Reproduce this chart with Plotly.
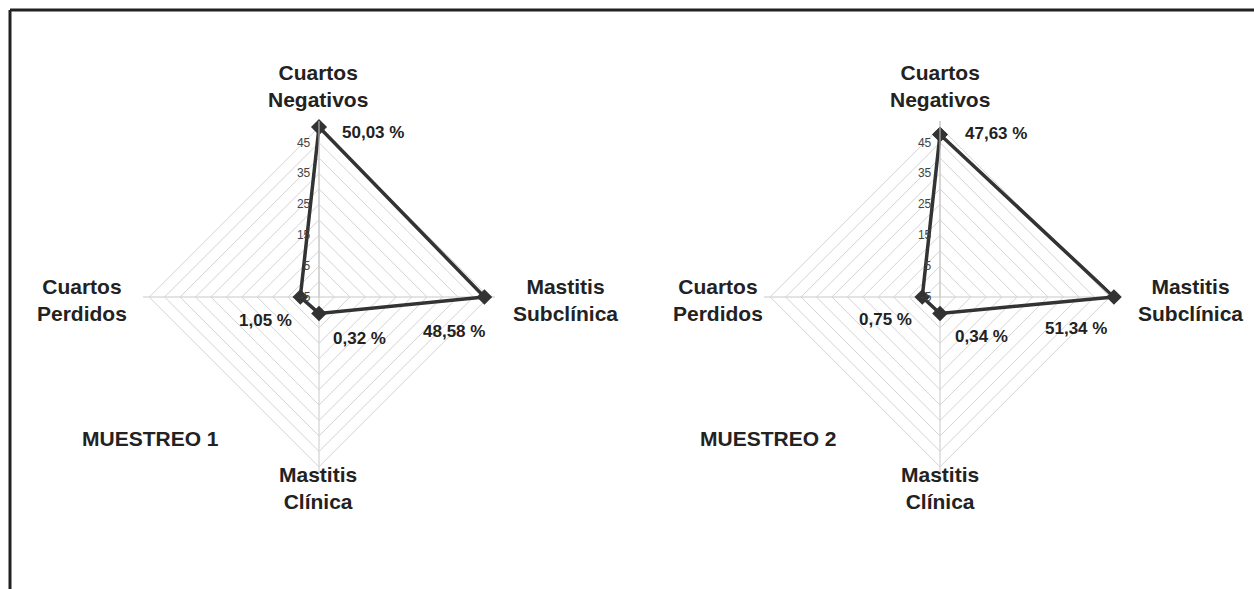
import plotly.graph_objects as go

categories = ["Cuartos<br>Negativos", "Mastitis<br>Subclínica", "Mastitis<br>Clínica", "Cuartos<br>Perdidos"]
muestreo1 = [50.03, 48.58, 0.32, 1.05]
muestreo2 = [47.63, 51.34, 0.34, 0.75]
titles = ["MUESTREO 1", "MUESTREO 2"]
grid_ticks = [-5, 0, 5, 10, 15, 20, 25, 30, 35, 40, 45, 50]
tick_labels = ["-5", "", "5", "", "15", "", "25", "", "35", "", "45", ""]
AXIS_MIN, AXIS_MAX = -5, 52  # radial axis: centre of the diamond is -5; spokes run slightly past 50

FONT = "Liberation Sans, Arial, sans-serif"
DARK = "#333333"
TXT = "#222222"
GRID = "#d4d4d4"

def fmt(v):
    return f"<b>{v:.2f}".replace(".", ",") + " %</b>"

# radial values measured from the axis origin (-5) so the centre sits at -5
def from_origin(vals):
    return [v - AXIS_MIN for v in vals]

fig = go.Figure()
for i, vals in enumerate([muestreo1, muestreo2]):
    sub = "polar" if i == 0 else "polar2"
    r = from_origin(vals)
    fig.add_trace(go.Scatterpolar(
        r=r + [r[0]],
        theta=categories + [categories[0]],
        mode="lines+markers",
        line=dict(color=DARK, width=3.5),
        marker=dict(symbol="diamond", size=12, color=DARK),
        cliponaxis=False,
        subplot=sub,
        showlegend=False,
        hoverinfo="skip",
    ))

polar_common = dict(
    gridshape="linear",
    bgcolor="rgba(0,0,0,0)",
    radialaxis=dict(
        range=[0, AXIS_MAX - AXIS_MIN],
        tickmode="array",
        tickvals=from_origin(grid_ticks),
        ticktext=tick_labels,
        angle=90,
        tickangle=90,
        side="counterclockwise",
        showline=True,
        linecolor="#c8c8c8",
        linewidth=1,
        gridcolor=GRID,
        gridwidth=1,
        ticks="outside",
        ticklen=4,
        tickcolor="rgba(0,0,0,0)",
        tickfont=dict(family=FONT, size=12, color="#444444"),
    ),
    angularaxis=dict(
        rotation=90,
        direction="clockwise",
        categoryorder="array",
        categoryarray=categories,
        showline=False,
        gridcolor="#c8c8c8",
        gridwidth=1,
        ticks="",
        showticklabels=False,
    ),
)

W, H = 1254, 589

def px(x, y):
    return x / W, 1 - y / H

R1, R2 = 176, 176
fig.update_layout(
    width=W, height=H,
    margin=dict(l=0, r=0, t=0, b=0),
    paper_bgcolor="white",
    plot_bgcolor="white",
    font=dict(family=FONT),
    polar=dict(domain=dict(x=[(319 - R1) / W, (319 + R1) / W], y=[1 - (297 + R1) / H, 1 - (297 - R1) / H]), **polar_common),
    polar2=dict(domain=dict(x=[(940 - R2) / W, (940 + R2) / W], y=[1 - (297 + R2) / H, 1 - (297 - R2) / H]), **polar_common),
)

# category labels around each diamond
cat_pos = [
    [(318, 86), (565, 300), (318, 488), (82, 300)],
    [(940, 86), (1190, 300), (940, 488), (718, 300)],
]
for chart in cat_pos:
    for cat, (x, y) in zip(categories, chart):
        ax, ay = px(x, y)
        fig.add_annotation(x=ax, y=ay, xref="paper", yref="paper", text="<b>" + cat + "</b>",
                           showarrow=False, xanchor="center", yanchor="middle",
                           font=dict(family=FONT, size=21, color=TXT))

# value labels
val_pos = [
    [(340, 132), (421, 331), (331, 338), (237, 320)],
    [(963, 133), (1043, 328), (953, 336), (857, 319)],
]
for vals, chart in zip([muestreo1, muestreo2], val_pos):
    for v, (x, y) in zip(vals, chart):
        ax, ay = px(x, y)
        fig.add_annotation(x=ax, y=ay, xref="paper", yref="paper", text=fmt(v),
                           showarrow=False, xanchor="left", yanchor="middle",
                           font=dict(family=FONT, size=17, color=TXT))

for (x, y), t in zip([(80, 438), (698, 438)], titles):
    ax, ay = px(x, y)
    fig.add_annotation(x=ax, y=ay, xref="paper", yref="paper", text="<b>" + t + "</b>",
                       showarrow=False, xanchor="left", yanchor="middle",
                       font=dict(family=FONT, size=21, color=TXT))

# frame
fx, fy = px(10, 10)
fig.add_shape(type="line", xref="paper", yref="paper", x0=fx, x1=1.0, y0=fy, y1=fy,
              line=dict(color="#222222", width=3))
fig.add_shape(type="line", xref="paper", yref="paper", x0=fx, x1=fx, y0=0.0, y1=fy,
              line=dict(color="#222222", width=3))

fig.write_html("out.html", config={"displayModeBar": False},
               post_script="document.body.style.margin='0';document.body.style.overflow='hidden';")
